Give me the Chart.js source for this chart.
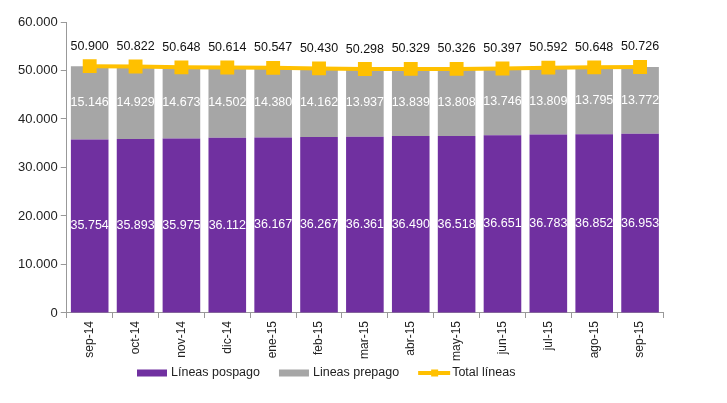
<!DOCTYPE html>
<html>
<head>
<meta charset="utf-8">
<script src="https://cdn.jsdelivr.net/npm/chart.js@4.4.0/dist/chart.umd.min.js"></script>
<style>
  html, body { margin: 0; padding: 0; background: #fff; }
  #wrap { width: 727px; height: 403px; }
</style>
</head>
<body>
<div id="wrap"><canvas id="chart" width="727" height="403"></canvas></div>
<script>
const months = ["sep-14", "oct-14", "nov-14", "dic-14", "ene-15", "feb-15", "mar-15",
  "abr-15", "may-15", "jun-15", "jul-15", "ago-15", "sep-15"];
const pospago = [35754, 35893, 35975, 36112, 36167, 36267, 36361, 36490, 36518, 36651, 36783, 36852, 36953];
const prepago = [15146, 14929, 14673, 14502, 14380, 14162, 13937, 13839, 13808, 13746, 13809, 13795, 13772];
const total = [50900, 50822, 50648, 50614, 50547, 50430, 50298, 50329, 50326, 50397, 50592, 50648, 50726];

const FONT = "'Liberation Sans', Arial, sans-serif";
const fmt = (v) => String(v).replace(/\B(?=(\d{3})+(?!\d))/g, ".");

// draws the value labels (no datalabels plugin offline)
const valueLabels = {
  id: "valueLabels",
  afterDatasetsDraw(chart) {
    const ctx = chart.ctx;
    ctx.save();
    ctx.font = "12.5px " + FONT;
    ctx.textAlign = "center";
    ctx.textBaseline = "middle";
    chart.data.datasets.forEach((ds, i) => {
      const meta = chart.getDatasetMeta(i);
      meta.data.forEach((el, j) => {
        if (ds.type === "line") {
          ctx.fillStyle = "#111";
          ctx.fillText(fmt(ds.data[j]), el.x, el.y - 20);
        } else {
          ctx.fillStyle = "#fff";
          ctx.fillText(fmt(ds.data[j]), el.x, (el.y + el.base) / 2);
        }
      });
    });
    ctx.restore();
  }
};

// excel-like legend: wide flat boxes, line with small marker
const bottomLegend = {
  id: "bottomLegend",
  afterDraw(chart) {
    const ctx = chart.ctx;
    ctx.save();
    ctx.font = "12.5px " + FONT;
    ctx.textBaseline = "middle";
    const y = 373;
    const items = chart.data.datasets;
    const widths = items.map((ds) => 34 + ctx.measureText(ds.label).width);
    const gap = 19;
    let x = 137;
    items.forEach((ds, i) => {
      if (ds.type === "line") {
        ctx.strokeStyle = ds.borderColor;
        ctx.lineWidth = 4;
        ctx.beginPath();
        ctx.moveTo(x, y);
        ctx.lineTo(x + 32, y);
        ctx.stroke();
        ctx.fillStyle = ds.borderColor;
        ctx.fillRect(x + 13, y - 3.5, 7, 7);
      } else {
        ctx.fillStyle = ds.backgroundColor;
        ctx.fillRect(x, y - 3.5, 30, 7);
      }
      ctx.fillStyle = "#222";
      ctx.fillText(ds.label, x + 34, y);
      x += widths[i] + gap;
    });
    ctx.restore();
  }
};

new Chart(document.getElementById("chart"), {
  data: {
    labels: months,
    datasets: [
      {
        type: "bar",
        label: "Líneas pospago",
        data: pospago,
        backgroundColor: "#7030A0",
        stack: "s",
        barPercentage: 0.82,
        categoryPercentage: 1,
        order: 1
      },
      {
        type: "bar",
        label: "Lineas prepago",
        data: prepago,
        backgroundColor: "#A6A6A6",
        stack: "s",
        barPercentage: 0.82,
        categoryPercentage: 1,
        order: 1
      },
      {
        type: "line",
        label: "Total líneas",
        data: total,
        borderColor: "#FFC000",
        backgroundColor: "#FFC000",
        borderWidth: 4,
        pointStyle: "rect",
        pointRadius: 7,
        pointHoverRadius: 7,
        tension: 0,
        order: 0
      }
    ]
  },
  options: {
    responsive: false,
    animation: false,
    devicePixelRatio: 1,
    layout: { padding: { left: 15, right: 64, top: 22, bottom: 39 } },
    scales: {
      x: {
        stacked: true,
        grid: { drawOnChartArea: false, offset: true, tickLength: 5, color: "#999" },
        border: { color: "#999" },
        ticks: {
          maxRotation: 90, minRotation: 90,
          padding: 3,
          color: "#222",
          font: { family: FONT, size: 12 }
        }
      },
      y: {
        stacked: true,
        min: 0, max: 60000,
        grid: { drawOnChartArea: false, tickLength: 6, color: "#999" },
        border: { color: "#999" },
        ticks: {
          stepSize: 10000,
          color: "#222",
          callback: (v) => fmt(v),
          font: { family: FONT, size: 13 }
        }
      }
    },
    plugins: {
      tooltip: { enabled: false },
      legend: { display: false }
    }
  },
  plugins: [valueLabels, bottomLegend]
});
</script>
</body>
</html>
